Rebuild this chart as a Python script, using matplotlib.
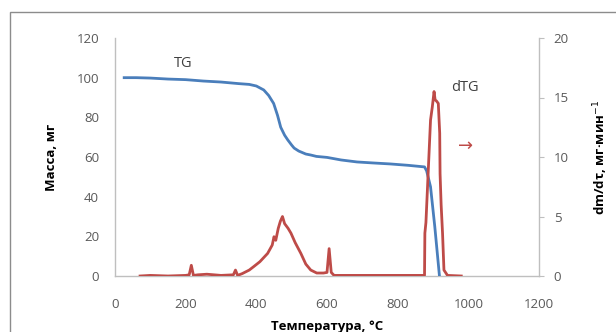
import matplotlib
matplotlib.use("Agg")
import matplotlib.pyplot as plt
from matplotlib.patches import Rectangle

plt.rcParams['font.family'] = ['Open Sans', 'DejaVu Sans']

# TG curve (temperature °C, mass mg)
tg_t = [26, 60, 100, 150, 200, 250, 300, 350, 380, 400, 421, 435, 449, 460, 469, 480, 489, 500, 507,
        520, 540, 554, 570, 600, 640, 685, 730, 779, 830, 876, 882, 893, 905, 918]
tg_m = [100, 100, 99.8, 99.3, 99, 98.3, 97.8, 97, 96.6, 95.8, 93.8, 91, 87, 81, 75, 71, 68.6, 66, 64.5,
        63, 61.5, 61, 60.3, 59.8, 58.5, 57.5, 57, 56.5, 55.8, 55, 53, 45, 25, 0.5]

# dTG curve (temperature °C, mg/min)
dtg_t = [71, 100, 150, 200, 210, 216, 222, 235, 260, 300, 335, 341, 347, 360, 380, 393, 410, 432, 445,
         450, 455, 462, 468, 474, 480, 490, 498, 510, 526, 540, 554, 571, 590, 600, 606, 612, 620, 700,
         800, 876, 877, 880, 885, 893, 898, 903, 906, 910, 915, 919, 920, 923, 927, 931, 941, 980]
dtg_v = [0, 0.05, 0, 0.05, 0.1, 0.9, 0.05, 0.1, 0.15, 0.05, 0.1, 0.5, 0.05, 0.2, 0.5, 0.8, 1.2, 1.9, 2.6,
         3.3, 3.0, 4.0, 4.6, 5.0, 4.4, 4.0, 3.6, 2.8, 1.9, 1.0, 0.5, 0.25, 0.25, 0.3, 2.3, 0.3, 0.05, 0.05,
         0.05, 0.05, 3.6, 4.5, 7.8, 13.1, 14.2, 15.5, 14.8, 14.7, 14.5, 12.0, 8.6, 6.0, 3.6, 0.5, 0.05, 0.0]

x_ticks = [0, 200, 400, 600, 800, 1000, 1200]
y_ticks = [0, 20, 40, 60, 80, 100, 120]
y2_ticks = [0, 5, 10, 15, 20]

blue = '#4A7EBB'
red = '#BE4B48'
tick_col = '#595959'
spine_col = '#BFBFBF'

fig = plt.figure(figsize=(6.16, 3.32), dpi=100)
fig.patches.append(Rectangle((10/616, -0.2), 1.2, 1.2 - 12/332,
                             transform=fig.transFigure, fill=False, edgecolor='#8C8C8C',
                             linewidth=1.0, clip_on=False))

ax = fig.add_axes([115/616, 56/332, 424/616, 238/332])
ax2 = ax.twinx()

ax.plot(tg_t, tg_m, color=blue, lw=2.0, zorder=3)
ax2.plot(dtg_t, dtg_v, color=red, lw=2.0, zorder=2)

ax.set_xlim(0, 1200)
ax.set_ylim(0, 120)
ax2.set_ylim(0, 20)
ax.set_xticks(x_ticks)
ax.set_yticks(y_ticks)
ax2.set_yticks(y2_ticks)

for a in (ax, ax2):
    a.spines['top'].set_visible(False)
    for s in ('left', 'right', 'bottom'):
        a.spines[s].set_color(spine_col)
        a.spines[s].set_linewidth(1.0)
    a.patch.set_visible(False)

ax.spines['right'].set_visible(False)
ax2.spines['left'].set_visible(False)
ax2.spines['bottom'].set_visible(False)

ax.tick_params(axis='y', length=0, labelsize=9.5, labelcolor=tick_col, pad=11.5)
ax.tick_params(axis='x', length=0, labelsize=9.5, labelcolor=tick_col, pad=16)
ax2.tick_params(axis='y', length=3.6, color=spine_col, labelsize=9.5, labelcolor=tick_col, pad=7)

ax.set_xlabel('Температура, °С', fontsize=9.5, fontweight='bold', labelpad=6)
ax.set_ylabel('Масса, мг', fontsize=9.5, fontweight='bold', labelpad=13.5)
ax2.set_ylabel('dm/dτ, мг·мин$^{-1}$', fontsize=9.5, fontweight='bold', labelpad=16)

ax.text(193, 107, 'TG', fontsize=10.5, color='#404040', ha='center', va='center')
ax2.text(990, 15.8, 'dTG', fontsize=10.5, color='#404040', ha='center', va='center')
ax2.text(993, 10.9, '→', fontsize=13, color=red, ha='center', va='center',
         family=['Noto Sans', 'DejaVu Sans'])

fig.savefig('out.png', dpi=100)
